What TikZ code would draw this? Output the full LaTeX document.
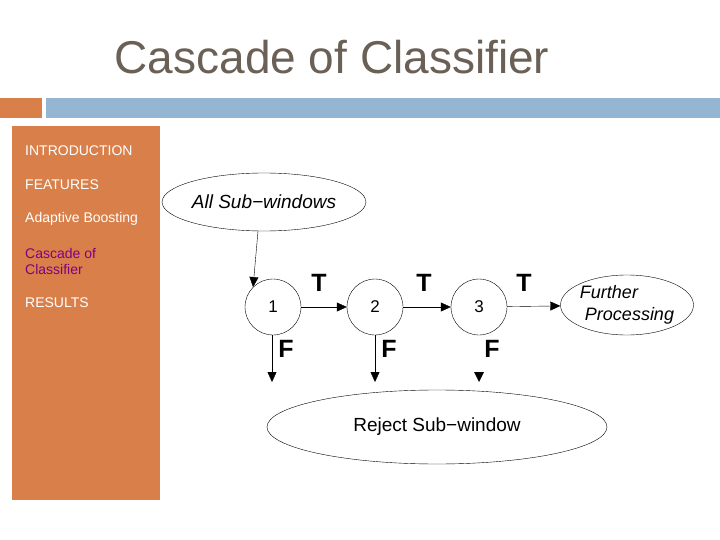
\documentclass[tikz,border=0pt]{standalone}
\usepackage{fontspec}
\setmainfont{Liberation Sans}
\usetikzlibrary{arrows.meta,shapes.geometric}
\definecolor{orng}{RGB}{217,128,74}
\definecolor{blu}{RGB}{148,182,210}
\definecolor{ttl}{RGB}{106,96,86}
\definecolor{purp}{RGB}{128,0,128}
\begin{document}
\begin{tikzpicture}[x=1pt,y=-1pt,
  side/.style={anchor=west,white,font=\fontsize{14}{16}\selectfont,align=left,inner sep=0pt},
  stage/.style={draw,circle,minimum size=56pt,inner sep=0pt,font=\fontsize{17}{19}\rmfamily\selectfont},
  lbl/.style={font=\fontsize{25}{27}\bfseries\selectfont},
  arr/.style={-{Triangle[length=10pt,width=9pt]},thin}]
\useasboundingbox (0,0) rectangle (720,540);
\fill[white] (0,0) rectangle (720,540);
\node[ttl,font=\fontsize{46}{50}\selectfont] (title) at (332,57) {Cascade of Classifier};
\fill[orng] (0,98) rectangle (42,118);
\fill[blu] (46,98) rectangle (720,118);
\fill[orng] (12,126) rectangle (160,500);
\node[side] (s1) at (25,151) {INTRODUCTION};
\node[side] (s2) at (25,185) {FEATURES};
\node[side] (s3) at (25,219) {Adaptive Boosting};
\node[side,purp] (s4) at (25,261) {Cascade of\\Classifier};
\node[side] (s5) at (25,303) {RESULTS};
\node[draw,ellipse,minimum width=180pt,minimum height=58pt,inner sep=0pt,font=\fontsize{19}{21}\itshape\selectfont] (all) at (264,202) {All Sub\textminus windows};
\node[stage] (c1) at (273,307) {1};
\node[stage] (c2) at (375,307) {2};
\node[stage] (c3) at (479,307) {3};
\node[draw,ellipse,minimum width=120pt,minimum height=60pt,inner sep=0pt,align=left,font=\fontsize{18}{22}\itshape\selectfont] (fp) at (627,305) {Further\\ \ Processing};
\node[draw,ellipse,minimum width=340pt,minimum height=74pt,font=\fontsize{19}{21}\selectfont] (rej) at (437,427) {Reject Sub\textminus window};
\draw[arr] (all.south) ++(-6,0) coordinate (a0) -- (c1.north west);
\draw[arr] (c1) -- (c2);
\draw[arr] (c2) -- (c3);
\draw[arr] (c3) -- (fp);
\coordinate (e1) at (272,382);
\coordinate (e2) at (375,382);
\draw[arr] (272,335) -- (e1);
\draw[arr] (375,335) -- (e2);
\fill (474,372) -- (484,372) -- (479,382) -- cycle;
\node[lbl] (t1) at (319,283) {T};
\node[lbl] (t2) at (424,283) {T};
\node[lbl] (t3) at (524,283) {T};
\node[lbl] (f1) at (286,349) {F};
\node[lbl] (f2) at (389,349) {F};
\node[lbl] (f3) at (492,349) {F};
\end{tikzpicture}
\end{document}
